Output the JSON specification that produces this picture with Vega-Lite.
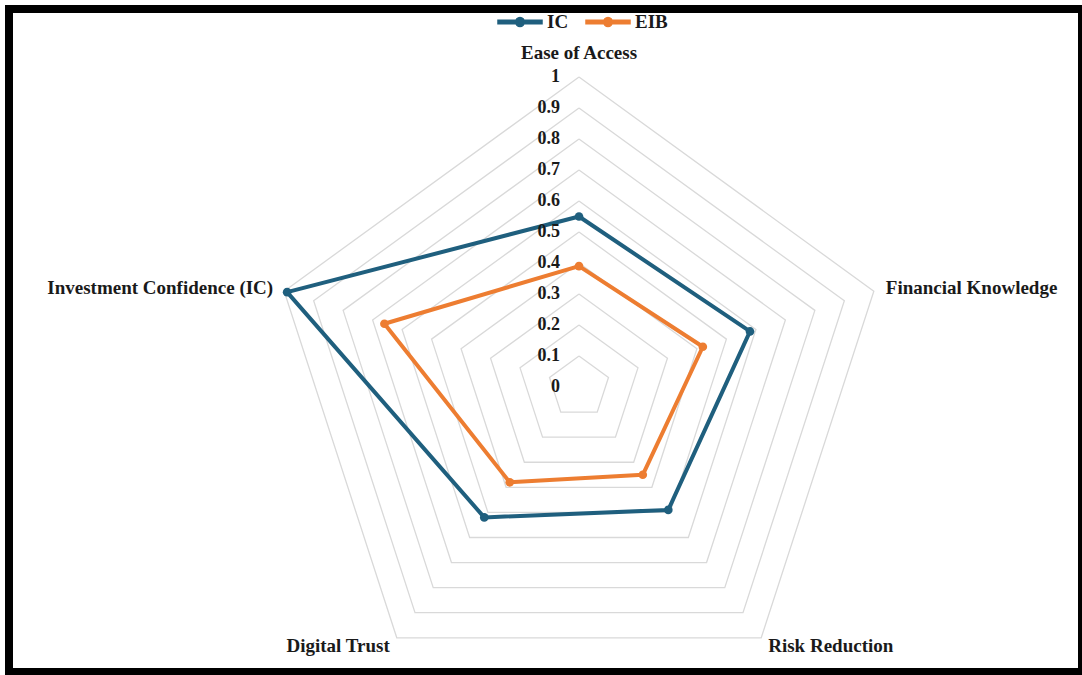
{
  "$schema": "https://vega.github.io/schema/vega-lite/v6.json",
  "width": 1082,
  "height": 675,
  "autosize": {"type": "fit", "contains": "padding"},
  "padding": {"left": 9, "top": 9, "right": 0, "bottom": 3},
  "background": "white",
  "config": {
    "view": {"stroke": "black", "strokeWidth": 8},
    "font": "Liberation Serif",
    "text": {"font": "Liberation Serif", "fontWeight": "bold", "color": "#1a1a1a"}
  },
  "datasets": {
    "scores": [
      {"series": "IC", "axis": "Ease of Access", "k": 0, "value": 0.55},
      {"series": "IC", "axis": "Financial Knowledge", "k": 1, "value": 0.58},
      {"series": "IC", "axis": "Risk Reduction", "k": 2, "value": 0.49},
      {"series": "IC", "axis": "Digital Trust", "k": 3, "value": 0.52},
      {"series": "IC", "axis": "Investment Confidence (IC)", "k": 4, "value": 0.99},
      {"series": "EIB", "axis": "Ease of Access", "k": 0, "value": 0.39},
      {"series": "EIB", "axis": "Financial Knowledge", "k": 1, "value": 0.42},
      {"series": "EIB", "axis": "Risk Reduction", "k": 2, "value": 0.35},
      {"series": "EIB", "axis": "Digital Trust", "k": 3, "value": 0.38},
      {"series": "EIB", "axis": "Investment Confidence (IC)", "k": 4, "value": 0.66}
    ],
    "rings": [
      {"level": 0}, {"level": 0.1}, {"level": 0.2}, {"level": 0.3}, {"level": 0.4},
      {"level": 0.5}, {"level": 0.6}, {"level": 0.7}, {"level": 0.8}, {"level": 0.9}, {"level": 1}
    ],
    "axes": [
      {"axis": "Ease of Access", "k": 0},
      {"axis": "Financial Knowledge", "k": 1},
      {"axis": "Risk Reduction", "k": 2},
      {"axis": "Digital Trust", "k": 3},
      {"axis": "Investment Confidence (IC)", "k": 4}
    ]
  },
  "encoding": {
    "x": {"field": "px", "type": "quantitative", "scale": {"domain": [-1.83871, 1.62258], "nice": false, "zero": false}, "axis": null},
    "y": {"field": "py", "type": "quantitative", "scale": {"domain": [-0.91935, 1.21935], "nice": false, "zero": false}, "axis": null}
  },
  "layer": [
    {
      "data": {"name": "rings"},
      "transform": [
        {"filter": "datum.level > 0"},
        {"calculate": "[0,1,2,3,4,5]", "as": "ks"},
        {"flatten": ["ks"]},
        {"calculate": "datum.level * sin(datum.ks * 2 * PI / 5)", "as": "px"},
        {"calculate": "datum.level * cos(datum.ks * 2 * PI / 5)", "as": "py"}
      ],
      "mark": {"type": "line", "color": "#D9D9D9", "strokeWidth": 1.3},
      "encoding": {
        "detail": {"field": "level", "type": "nominal"},
        "order": {"field": "ks", "type": "quantitative"}
      }
    },
    {
      "data": {"name": "scores"},
      "transform": [
        {"calculate": "datum.k === 0 ? [0, 5] : [datum.k]", "as": "kk"},
        {"flatten": ["kk"]},
        {"calculate": "datum.value * sin(datum.kk * 2 * PI / 5)", "as": "px"},
        {"calculate": "datum.value * cos(datum.kk * 2 * PI / 5)", "as": "py"}
      ],
      "mark": {"type": "line", "strokeWidth": 4, "strokeJoin": "round"},
      "encoding": {
        "color": {
          "field": "series", "type": "nominal",
          "scale": {"domain": ["IC", "EIB"], "range": ["#1F5F7E", "#ED7D31"]},
          "legend": {
            "orient": "none", "legendX": 488, "legendY": -10, "direction": "horizontal", "title": null,
            "symbolType": "M-1,-0.08L1,-0.08L1,0.08L-1,0.08Z M-0.2,0A0.2,0.2 0 1,1 0.2,0A0.2,0.2 0 1,1 -0.2,0Z M-0.1,0A0.1,0.1 0 1,1 0.1,0A0.1,0.1 0 1,1 -0.1,0Z",
            "symbolSize": 1936, "symbolStrokeWidth": 1.5, "symbolOpacity": 1,
            "labelFont": "Liberation Serif", "labelFontSize": 19, "labelFontWeight": "bold", "labelColor": "#1a1a1a",
            "labelOffset": 4, "columnPadding": 14
          }
        },
        "detail": {"field": "series", "type": "nominal"},
        "order": {"field": "kk", "type": "quantitative"}
      }
    },
    {
      "data": {"name": "scores"},
      "transform": [
        {"calculate": "datum.value * sin(datum.k * 2 * PI / 5)", "as": "px"},
        {"calculate": "datum.value * cos(datum.k * 2 * PI / 5)", "as": "py"}
      ],
      "mark": {"type": "point", "filled": true, "size": 75, "opacity": 1},
      "encoding": {
        "color": {
          "field": "series", "type": "nominal",
          "scale": {"domain": ["IC", "EIB"], "range": ["#1F5F7E", "#ED7D31"]},
          "legend": {
            "orient": "none", "legendX": 488, "legendY": -10, "direction": "horizontal", "title": null,
            "symbolType": "M-1,-0.08L1,-0.08L1,0.08L-1,0.08Z M-0.2,0A0.2,0.2 0 1,1 0.2,0A0.2,0.2 0 1,1 -0.2,0Z M-0.1,0A0.1,0.1 0 1,1 0.1,0A0.1,0.1 0 1,1 -0.1,0Z",
            "symbolSize": 1936, "symbolStrokeWidth": 1.5, "symbolOpacity": 1,
            "labelFont": "Liberation Serif", "labelFontSize": 19, "labelFontWeight": "bold", "labelColor": "#1a1a1a",
            "labelOffset": 4, "columnPadding": 14
          }
        }
      }
    },
    {
      "data": {"name": "rings"},
      "transform": [
        {"calculate": "0", "as": "px"},
        {"calculate": "datum.level", "as": "py"}
      ],
      "mark": {"type": "text", "align": "right", "baseline": "middle", "dx": -19, "fontSize": 18},
      "encoding": {"text": {"field": "level", "type": "quantitative", "format": "~g"}}
    },
    {
      "data": {"name": "axes"},
      "transform": [
        {"filter": "datum.k === 0"},
        {"calculate": "sin(datum.k * 2 * PI / 5)", "as": "px"},
        {"calculate": "cos(datum.k * 2 * PI / 5)", "as": "py"}
      ],
      "mark": {"type": "text", "align": "center", "baseline": "middle", "dy": -24, "fontSize": 19},
      "encoding": {"text": {"field": "axis", "type": "nominal"}}
    },
    {
      "data": {"name": "axes"},
      "transform": [
        {"filter": "datum.k === 1"},
        {"calculate": "sin(datum.k * 2 * PI / 5)", "as": "px"},
        {"calculate": "cos(datum.k * 2 * PI / 5)", "as": "py"}
      ],
      "mark": {"type": "text", "align": "left", "baseline": "middle", "dx": 12, "dy": -3, "fontSize": 19},
      "encoding": {"text": {"field": "axis", "type": "nominal"}}
    },
    {
      "data": {"name": "axes"},
      "transform": [
        {"filter": "datum.k === 2"},
        {"calculate": "sin(datum.k * 2 * PI / 5)", "as": "px"},
        {"calculate": "cos(datum.k * 2 * PI / 5)", "as": "py"}
      ],
      "mark": {"type": "text", "align": "left", "baseline": "middle", "dx": 7, "dy": 8, "fontSize": 19},
      "encoding": {"text": {"field": "axis", "type": "nominal"}}
    },
    {
      "data": {"name": "axes"},
      "transform": [
        {"filter": "datum.k === 3"},
        {"calculate": "sin(datum.k * 2 * PI / 5)", "as": "px"},
        {"calculate": "cos(datum.k * 2 * PI / 5)", "as": "py"}
      ],
      "mark": {"type": "text", "align": "right", "baseline": "middle", "dx": -7, "dy": 8, "fontSize": 19},
      "encoding": {"text": {"field": "axis", "type": "nominal"}}
    },
    {
      "data": {"name": "axes"},
      "transform": [
        {"filter": "datum.k === 4"},
        {"calculate": "sin(datum.k * 2 * PI / 5)", "as": "px"},
        {"calculate": "cos(datum.k * 2 * PI / 5)", "as": "py"}
      ],
      "mark": {"type": "text", "align": "right", "baseline": "middle", "dx": -11, "dy": -3, "fontSize": 19},
      "encoding": {"text": {"field": "axis", "type": "nominal"}}
    }
  ]
}
